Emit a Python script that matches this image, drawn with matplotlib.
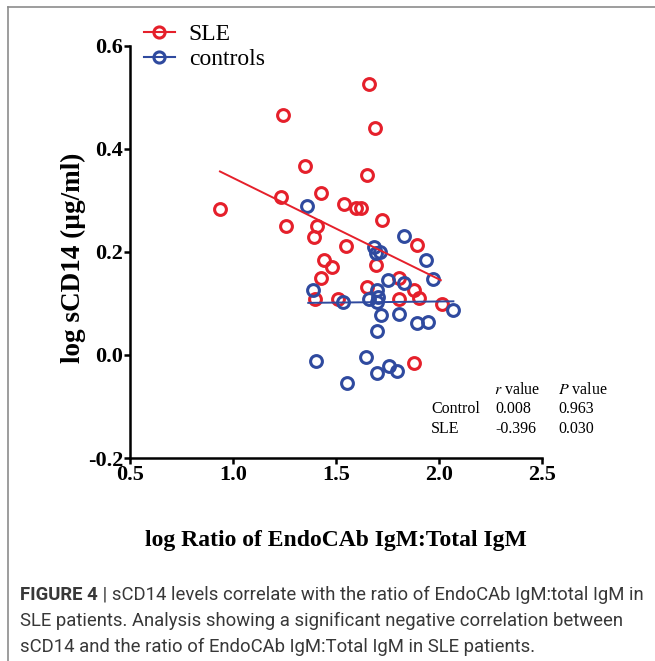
import numpy as np
import matplotlib
matplotlib.use('Agg')
import matplotlib.pyplot as plt
from matplotlib.lines import Line2D

# SLE patients
sle_x = [0.937, 1.242, 1.234, 1.257, 1.350, 1.426, 1.407, 1.396, 1.540, 1.596,
         1.621, 1.653, 1.661, 1.692, 1.724, 1.548, 1.441, 1.480, 1.426, 1.695,
         1.895, 1.399, 1.512, 1.650, 1.807, 1.807, 1.882, 1.904, 2.018, 1.878]
sle_y = [0.283, 0.465, 0.307, 0.251, 0.366, 0.315, 0.250, 0.229, 0.293, 0.286,
         0.286, 0.349, 0.526, 0.441, 0.261, 0.212, 0.184, 0.170, 0.149, 0.174,
         0.214, 0.108, 0.108, 0.131, 0.150, 0.108, 0.126, 0.111, 0.098, -0.016]

# controls
ctrl_x = [1.358, 1.831, 1.686, 1.695, 1.715, 1.937, 1.971, 1.388, 1.537, 1.663,
          1.699, 1.707, 1.699, 1.752, 1.831, 2.068, 1.719, 1.807, 1.893, 1.950,
          1.702, 1.402, 1.647, 1.760, 1.799, 1.699, 1.554]
ctrl_y = [0.289, 0.231, 0.210, 0.198, 0.200, 0.185, 0.147, 0.126, 0.102, 0.108,
          0.126, 0.113, 0.103, 0.145, 0.139, 0.087, 0.077, 0.080, 0.061, 0.063,
          0.047, -0.012, -0.004, -0.021, -0.031, -0.036, -0.054]

# regression lines (end points)
sle_fit_x = [0.937, 2.010]
sle_fit_y = [0.356, 0.145]
ctrl_fit_x = [1.366, 2.071]
ctrl_fit_y = [0.101, 0.104]

x_ticks = [0.5, 1.0, 1.5, 2.0, 2.5]
y_ticks = [-0.2, 0.0, 0.2, 0.4, 0.6]

stat_rows = ['Control', 'SLE']
stat_r = ['0.008', '-0.396']
stat_p = ['0.963', '0.030']

caption_bold = 'FIGURE 4'
caption_lines = [' | sCD14 levels correlate with the ratio of EndoCAb IgM:total IgM in',
                 'SLE patients. Analysis showing a significant negative correlation between',
                 'sCD14 and the ratio of EndoCAb IgM:Total IgM in SLE patients.']

red = '#e5202b'
blue = '#2f4a9f'

plt.rcParams['font.family'] = ['Liberation Serif', 'DejaVu Serif']
plt.rcParams['mathtext.fontset'] = 'stix'

W, H = 655, 661
fig = plt.figure(figsize=(W / 100, H / 100), dpi=100)


def fx(px):
    return px / W


def fy(py):
    return 1 - py / H


ax = fig.add_axes([fx(130), fy(458), (541.7 - 130) / W, (458 - 45.7) / H])

ax.plot(sle_x, sle_y, 'o', mfc='none', mec=red, mew=2.2, ms=8.5, clip_on=False)
ax.plot(ctrl_x, ctrl_y, 'o', mfc='none', mec=blue, mew=2.2, ms=8.5, clip_on=False)
ax.plot(sle_fit_x, sle_fit_y, '-', color=red, lw=1.4)
ax.plot(ctrl_fit_x, ctrl_fit_y, '-', color=blue, lw=1.4)

ax.set_xlim(0.5, 2.5)
ax.set_ylim(-0.2, 0.6)
ax.set_xticks(x_ticks)
ax.set_yticks(y_ticks)
ax.set_xticklabels(['%.1f' % v for v in x_ticks], fontweight='bold', fontsize=16)
ax.set_yticklabels(['%.1f' % v for v in y_ticks], fontweight='bold', fontsize=16)
ax.tick_params(direction='out', length=4, width=1.8, pad=1)
for s in ['top', 'right']:
    ax.spines[s].set_visible(False)
for s in ['left', 'bottom']:
    ax.spines[s].set_linewidth(1.8)

ax.set_xlabel('log Ratio of EndoCAb IgM:Total IgM', fontweight='bold', fontsize=17)
ax.xaxis.set_label_coords(0.5, (458 - 530) / (458 - 45.7))
ax.set_ylabel('log sCD14 (\u00b5g/ml)', fontweight='bold', fontsize=19.5)
ax.yaxis.set_label_coords((73 - 130) / (541.7 - 130), (458 - 258) / (458 - 45.7))
ax.yaxis.label.set_va('center')

# legend
handles = [Line2D([], [], color=red, marker='o', mfc='none', mec=red, mew=2.2, ms=8, lw=1.5),
           Line2D([], [], color=blue, marker='o', mfc='none', mec=blue, mew=2.2, ms=8, lw=1.5)]
fig.legend(handles, ['SLE', 'controls'], loc='upper left',
           bbox_to_anchor=(fx(132), fy(12)), frameon=False, fontsize=17,
           handlelength=1.3, handletextpad=0.6, labelspacing=0.15, borderpad=0)

# statistics table
fig.text(fx(494), fy(394), r'$\mathit{r}$ value', fontsize=11.5)
fig.text(fx(558), fy(394), r'$\mathit{P}$ value', fontsize=11.5)
for i, name in enumerate(stat_rows):
    yy = fy(413 + i * 20)
    fig.text(fx(431), yy, name, fontsize=11.5)
    fig.text(fx(495), yy, stat_r[i], fontsize=11.5)
    fig.text(fx(558), yy, stat_p[i], fontsize=11.5)

# frame
frame_col = '#8c8c8c'
fig.add_artist(Line2D([fx(8), fx(8)], [fy(7), 0], color=frame_col, lw=1.2))
fig.add_artist(Line2D([fx(8), 1], [fy(7), fy(7)], color=frame_col, lw=1.2))

# caption, sized so the first line spans the same width as the reference
cap_font = ['Roboto', 'DejaVu Sans']
cap_col = '#383838'
renderer = fig.canvas.get_renderer()
probe_a = fig.text(0, 0, caption_bold, fontsize=10, fontweight='bold', family=cap_font)
probe_b = fig.text(0, 0, caption_lines[0], fontsize=10, family=cap_font)
probe_w = (probe_a.get_window_extent(renderer=renderer).width
           + probe_b.get_window_extent(renderer=renderer).width)
probe_a.remove()
probe_b.remove()
cap_size = 10 * 622 / probe_w

t0 = fig.text(fx(20), fy(600), caption_bold, fontsize=cap_size, fontweight='bold',
              family=cap_font, color=cap_col)
bb = t0.get_window_extent(renderer=renderer)
fig.text(bb.x1 / W, fy(600), caption_lines[0], fontsize=cap_size, family=cap_font, color=cap_col)
for i, line in enumerate(caption_lines[1:]):
    fig.text(fx(20), fy(626 + i * 26), line, fontsize=cap_size, family=cap_font, color=cap_col)

fig.savefig('out.png', dpi=100)
